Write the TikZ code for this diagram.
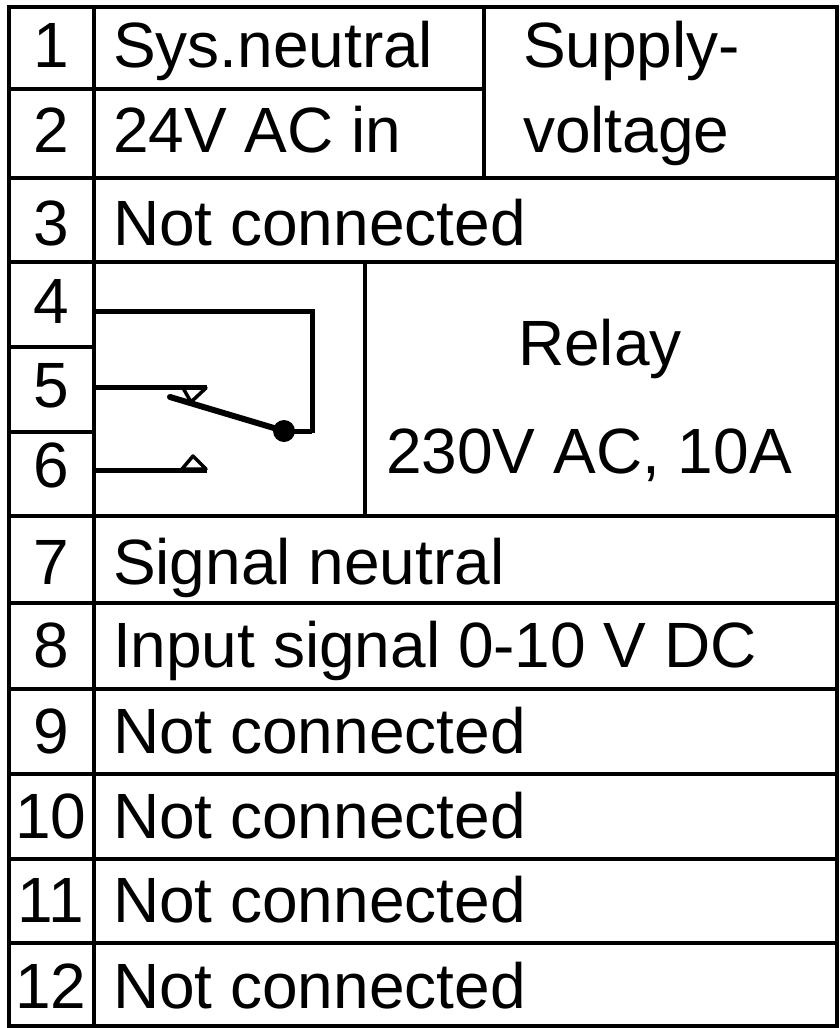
\documentclass[tikz,border=0pt]{standalone}
\usepackage{fontspec}
\setmainfont{Liberation Sans}

\begin{document}
\begin{tikzpicture}[x=1pt,y=-1pt,line width=4pt,
    txt/.style={inner sep=0pt,anchor=base west,font=\fontsize{64}{70}\selectfont},
    num/.style={inner sep=0pt,anchor=base,font=\fontsize{64}{70}\selectfont},
    wire/.style={line width=5pt},
    blade/.style={line width=6pt,line cap=round},
    tip/.style={line width=3.5pt,line join=round}]
        \useasboundingbox (0,0) rectangle (839,1028);

        % --- Frame and grid ---
        \draw (9,7) rectangle (837,1026);
        \draw (94,7) -- (94,1026);
        \draw (484,7) -- (484,178);
        \draw (365,262) -- (365,516);
        \draw (9,89) -- (484,89);
        \foreach \y in {178,262,516,603,689,774,859,943}
            \draw (9,\y) -- (837,\y);
        \draw (9,347) -- (94,347) (9,432) -- (94,432);
        % ---

        % --- Terminal numbers ---
        \foreach \n/\y in {1/67,2/152,3/245,4/323,5/407,6/487,7/584,8/667,9/753,10/838,11/922,12/1008}
            \node[num] (n\n) at (51,\y) {\n};
        % ---

        % --- Labels ---
        \node[txt] (sysneutral) at (111,67) {Sys.neutral};
        \node[txt] (acin) at (111,152) {24V AC in};
        \node[txt] (supply) at (521,67) {Supply-};
        \node[txt] (voltage) at (521,152) {voltage};
        \node[txt] (nc3) at (111,245) {Not connected};
        \node[txt,anchor=base] (relay) at (600,365) {Relay};
        \node[txt,anchor=base] (rating) at (589,473) {230V AC, 10A};
        \node[txt] (signeutral) at (111,584) {Signal neutral};
        \node[txt] (input) at (111,667) {Input signal 0-10 V DC};
        \foreach \n/\y in {9/753,10/838,11/922,12/1008}
            \node[txt] (nc\n) at (111,\y) {Not connected};
        % ---

        % --- Relay contact ---
        \node[circle,fill,inner sep=0pt,minimum size=22pt] (pivot) at (284,431) {};
        \draw[wire] (94,311) -- (312,311) -- (312,433);
        \draw[wire] (pivot.center) -- (312,431);
        \draw[blade] (pivot.center) -- (170,397);
        \draw[wire] (94,387) -- (207,387);
        \draw[tip] (183,388) -- (206,388) -- (191,402) -- cycle;
        \draw[wire] (94,470) -- (207,470);
        \draw[tip] (182,469) -- (206,469) -- (193,456) -- cycle;
        % ---
\end{tikzpicture}
\end{document}
